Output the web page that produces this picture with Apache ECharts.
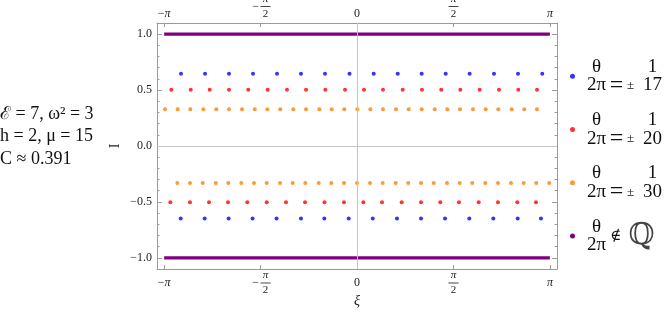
<!DOCTYPE html>
<html>
<head>
<meta charset="utf-8">
<script src="https://cdn.jsdelivr.net/npm/echarts@6/dist/echarts.min.js"></script>
<style>html,body{margin:0;padding:0;background:#fff}#chart{width:665px;height:324px}</style>
</head>
<body>
<div id="chart"></div>
<script>
var SERIF = '"Liberation Serif", "Times New Roman", "DejaVu Serif", serif';

// ticks
var xTickValues = [-Math.PI, -Math.PI / 2, 0, Math.PI / 2, Math.PI];
var xTickLabels = ['−π', '−π/2', '0', 'π/2', 'π'];
var yTickValues = [-1, -0.5, 0, 0.5, 1];
var yTickLabels = ['−1.0', '−0.5', '0.0', '0.5', '1.0'];
var yMinorTicks = [-0.9, -0.8, -0.7, -0.6, -0.4, -0.3, -0.2, -0.1, 0.1, 0.2, 0.3, 0.4, 0.6, 0.7, 0.8, 0.9];

// theta/2pi = ±1/17 (blue)
var iBlue = [0.646, -0.648];
var xiBlueUpper = [-2.865, -2.474, -2.084, -1.693, -1.302, -0.912, -0.521, -0.122, 0.272, 0.663, 1.053, 1.444, 1.834, 2.230, 2.621, 3.016];
var xiBlueLower = [-2.870, -2.480, -2.090, -1.700, -1.310, -0.912, -0.532, -0.135, 0.256, 0.651, 1.042, 1.433, 1.828, 2.219, 2.616, 2.995];

// theta/2pi = ±1/20 (red)
var iRed = [0.502, -0.503];
var xiRedUpper = [-3.023, -2.707, -2.398, -2.084, -1.770, -1.454, -1.140, -0.830, -0.516, -0.195, 0.114, 0.423, 0.744, 1.058, 1.372, 1.682, 1.997, 2.312, 2.626, 2.930];
var xiRedLower = [-3.039, -2.719, -2.409, -2.100, -1.786, -1.470, -1.156, -0.846, -0.529, -0.212, 0.103, 0.407, 0.728, 1.042, 1.356, 1.660, 1.981, 2.295, 2.610, 2.914];

// theta/2pi = ±1/30 (orange)
var iOrange = [0.328, -0.330];
var xiOrangeUpper = [-3.126, -2.919, -2.714, -2.502, -2.290, -2.084, -1.872, -1.665, -1.460, -1.249, -1.037, -0.830, -0.614, -0.412, -0.207, 0.005, 0.217, 0.423, 0.635, 0.842, 1.053, 1.265, 1.470, 1.677, 1.888, 2.095, 2.300, 2.518, 2.723, 2.930];
var xiOrangeLower = [-2.925, -2.719, -2.512, -2.300, -2.095, -1.883, -1.677, -1.470, -1.253, -1.047, -0.842, -0.623, -0.418, -0.212, 0.000, 0.212, 0.418, 0.630, 0.835, 1.042, 1.249, 1.465, 1.672, 1.877, 2.089, 2.295, 2.507, 2.714, 2.919, 3.130];

// theta/2pi irrational (purple, dense)
var iIrr = [1, -1];
var xiIrr = [-3.14, 3.14];

var legendNames = ['q17', 'q20', 'q30', 'irr'];
var legendDen = {q17: '17', q20: '20', q30: '30'};

function pairs(xs, y) {
    var rs = [];
    for (var i = 0; i < xs.length; i++) rs.push([xs[i], y]);
    return rs;
}

function xLabel(value) {
    var idx = 0;
    for (var i = 0; i < xTickValues.length; i++) {
        if (Math.abs(xTickValues[i] - value) < Math.abs(xTickValues[idx] - value)) idx = i;
    }
    var s = xTickLabels[idx];
    if (s.indexOf('/') >= 0) {
        var neg = s.charAt(0) === '−';
        var p = s.replace('−', '').split('/');
        if (neg) return '{sp|}{fn|' + p[0] + '}\n{fm|−}{fb|}\n{sp|}{fd|' + p[1] + '}';
        return '{fn|' + p[0] + '}\n{fb|}\n{fd|' + p[1] + '}';
    }
    return s.replace('π', '{pi|π}');
}

function yLabel(value) {
    for (var i = 0; i < yTickValues.length; i++) {
        if (Math.abs(yTickValues[i] - value) < 1e-6) return yTickLabels[i];
    }
    return '';
}

var xRich = {
    pi: {fontFamily: SERIF, fontSize: 12, fontStyle: 'italic', color: '#222'},
    fn: {fontFamily: SERIF, fontSize: 11, fontStyle: 'italic', width: 10, align: 'center', lineHeight: 12, color: '#222'},
    fd: {fontFamily: SERIF, fontSize: 11, width: 10, align: 'center', lineHeight: 12, color: '#222'},
    fb: {width: 10, height: 1, lineHeight: 3, backgroundColor: '#444', align: 'center'},
    fm: {fontFamily: SERIF, fontSize: 12, width: 10, lineHeight: 3, align: 'center', color: '#222'},
    sp: {width: 10, lineHeight: 12, align: 'center'}
};

var FRAME = '#9a9a9a';
var xRange = {min: -3.256, max: 3.256};
var yRange = {min: -1.1, max: 1.1};

function xAxisOpt(pos) {
    return {
        type: 'value', position: pos, min: xRange.min, max: xRange.max,
        axisLine: {show: true, onZero: false, lineStyle: {color: FRAME, width: 1}},
        axisTick: {show: true, inside: true, length: 4, customValues: xTickValues, lineStyle: {color: FRAME}},
        axisLabel: {
            show: true, customValues: xTickValues, formatter: xLabel,
            fontFamily: SERIF, fontSize: 12, color: '#222',
            margin: pos === 'top' ? 3 : 14,
            verticalAlign: pos === 'top' ? 'bottom' : 'middle',
            rich: xRich
        },
        splitLine: {show: false},
        name: pos === 'bottom' ? 'ξ' : '',
        nameLocation: 'middle', nameGap: 25, nameMoveOverlap: false,
        nameTextStyle: {fontFamily: SERIF, fontSize: 14, fontStyle: 'italic', color: '#222'}
    };
}

function yAxisOpt(pos, minor) {
    return {
        type: 'value', position: pos, min: yRange.min, max: yRange.max,
        axisLine: {show: !minor, onZero: false, lineStyle: {color: FRAME, width: 1}},
        axisTick: {show: true, inside: true, length: minor ? 2.5 : 5,
            customValues: minor ? yMinorTicks : yTickValues, lineStyle: {color: FRAME}},
        axisLabel: {
            show: pos === 'left' && !minor, customValues: yTickValues, formatter: yLabel,
            fontFamily: SERIF, fontSize: 12, color: '#222', margin: 5
        },
        splitLine: {show: false},
        name: pos === 'left' && !minor ? 'I' : '',
        nameLocation: 'middle', nameGap: 35, nameRotate: 90, nameMoveOverlap: false,
        nameTextStyle: {fontFamily: SERIF, fontSize: 14, color: '#222'}
    };
}

function dots(name, color, upper, lower, levels) {
    return {
        name: name, type: 'scatter', color: color,
        symbol: 'circle', symbolSize: 4,
        data: pairs(upper, levels[0]).concat(pairs(lower, levels[1])),
        z: 3
    };
}

function flat(y) {
    return {
        name: 'irr', type: 'line', color: '#800080',
        showSymbol: false, symbol: 'circle',
        lineStyle: {width: 3.2, color: '#800080'},
        data: pairs(xiIrr, y), z: 3
    };
}

var legendRich = {
    n: {fontFamily: SERIF, fontSize: 19, lineHeight: 18.7, width: 22, align: 'center', color: '#111'},
    n2: {fontFamily: SERIF, fontSize: 19, lineHeight: 18.7, width: 34, align: 'center', color: '#111'},
    s1: {width: 18, lineHeight: 18.7, align: 'center'},
    s2: {width: 10, lineHeight: 18.7, align: 'center'},
    eq: {fontFamily: SERIF, fontSize: 24, lineHeight: 18.7, width: 18, align: 'center', color: '#111'},
    pm: {fontFamily: SERIF, fontSize: 13, lineHeight: 18.7, width: 10, align: 'center', color: '#111'},
    np: {fontFamily: SERIF, fontSize: 19, lineHeight: 17.5, width: 22, align: 'center', color: '#111'},
    sq: {width: 52, lineHeight: 17.5, align: 'center'},
    bq: {width: 22, lineHeight: 1, align: 'center'},
    ni: {fontFamily: '"DejaVu Serif", serif', fontSize: 15, lineHeight: 1, width: 16, align: 'center', color: '#111'},
    qq: {fontFamily: '"DejaVu Serif", serif', fontSize: 30, lineHeight: 1, width: 36, align: 'center', color: '#444'}
};

function legendText(name) {
    if (name === 'irr') {
        return '{np|θ}{sq|}\n{bq|}{ni|∉}{qq|ℚ}\n{np|2π}{sq|}';
    }
    return '{n|θ}{s1|}{s2|}{n2|1}\n{n|2π}{eq|=}{pm|±}{n2|' + legendDen[name] + '}';
}

var myChart = echarts.init(document.getElementById('chart'), null, {renderer: 'canvas'});
myChart.setOption({
    animation: false,
    backgroundColor: '#fff',
    grid: {left: 157, top: 23, width: 400, height: 246, outerBoundsMode: 'none', containLabel: false},
    xAxis: [xAxisOpt('bottom'), xAxisOpt('top')],
    yAxis: [yAxisOpt('left', false), yAxisOpt('right', false), yAxisOpt('left', true), yAxisOpt('right', true)],
    legend: {
        data: legendNames, orient: 'vertical', left: 570, top: 57.3, padding: 0,
        icon: 'circle', itemWidth: 16, itemHeight: 5, itemGap: 13.1,
        selectedMode: false, formatter: legendText,
        textStyle: {fontFamily: SERIF, fontSize: 19, color: '#111', rich: legendRich}
    },
    graphic: [{
        type: 'text', left: 0, top: 103,
        style: {text: 'ℰ = 7, ω² = 3\nh = 2, μ = 15\nC ≈ 0.391', font: '18px "Liberation Serif", serif', lineHeight: 22.5, fill: '#111'}
    }],
    series: [
        {
            name: 'axes', type: 'line', data: [], silent: true, z: 1,
            markLine: {
                silent: true, symbol: ['none', 'none'], label: {show: false},
                lineStyle: {color: '#c4c4c4', width: 1, type: 'solid'},
                data: [{xAxis: 0}, {yAxis: 0}]
            }
        },
        dots('q17', '#0000ff', xiBlueUpper, xiBlueLower, iBlue),
        dots('q20', '#ff0000', xiRedUpper, xiRedLower, iRed),
        dots('q30', '#ff8000', xiOrangeUpper, xiOrangeLower, iOrange),
        flat(iIrr[0]),
        flat(iIrr[1])
    ]
});
</script>
</body>
</html>
